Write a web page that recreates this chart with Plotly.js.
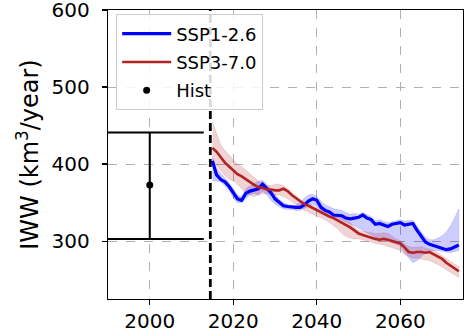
<!DOCTYPE html>
<html>
<head>
<meta charset="utf-8">
<script src="https://cdn.plot.ly/plotly-3.0.1.min.js"></script>
<style>html,body{margin:0;padding:0;background:#fff;}#chart{width:464px;height:333px;}</style>
</head>
<body>
<div id="chart"></div>
<script>
const years = [2015,2016,2017,2018,2019,2020,2021,2022,2023,2024,2025,2026,2027,2028,2029,2030,2031,2032,2033,2034,2035,2036,2037,2038,2039,2040,2041,2042,2043,2044,2045,2046,2047,2048,2049,2050,2051,2052,2053,2054,2055,2056,2057,2058,2059,2060,2061,2062,2063,2064,2065,2066,2067,2068,2069,2070,2071,2072,2073,2074];

const ssp126 = [404,386,380,377,371,363,355,353,362,365,366,368,374,368,363,355,350,346,345,344,344,344,347,352,355,353,344,340,338,334,334,333,330,329,330,331,334,330,328,322,323,321,319,322,323,324,321,322,323,314,307,299,296,294,292,290,289,290,292,295];
const ssp126Upper = [410,395,388,382,376,368,360,358,368,372,375,378,379,374,367,360,354,350,348,346,347,350,356,360,361,358,352,347,345,342,341,340,337,335,336,335,337,334,332,327,328,326,324,325,327,328,326,327,327,320,312,305,302,302,304,307,312,320,330,342];
const ssp126Lower = [378,378,377,372,366,356,350,350,355,360,362,360,365,360,353,348,345,342,341,341,340,340,342,345,348,345,340,335,333,330,330,328,325,322,320,318,315,312,308,305,304,303,300,298,296,294,285,278,272,275,280,285,287,288,288,287,286,285,286,288];

const ssp370 = [421,416,409,402,397,392,387,384,380,377,373,370,369,367,367,366,366,368,365,360,356,351,348,346,343,340,338,335,332,330,327,324,322,318,314,310,308,306,305,303,302,303,302,300,299,297,292,286,285,286,286,285,286,283,280,277,272,268,264,261];
const ssp370Upper = [455,440,425,418,412,405,400,397,392,388,382,378,375,372,372,374,374,372,368,363,358,354,351,349,346,344,341,338,335,333,331,330,328,324,318,314,313,312,311,310,310,311,310,306,303,301,296,293,292,292,293,291,290,288,285,282,278,274,270,267];
const ssp370Lower = [405,398,392,385,380,378,374,368,362,360,358,360,362,362,360,360,360,358,355,352,348,344,340,338,335,332,330,328,325,320,316,310,306,304,303,303,302,300,299,297,296,295,294,292,290,288,283,280,278,278,277,276,275,273,270,267,263,259,256,253];

const histYear = [2000];
const histMean = [373];
const histUp = [68];
const histDown = [70];

const splitYear = 2014.5;
const xTicks = [2000, 2020, 2040, 2060];
const yTicks = [300, 400, 500, 600];

const revYears = years.slice().reverse();
function band(upper, lower, color) {
  return {
    x: years.concat(revYears),
    y: upper.concat(lower.slice().reverse()),
    type: 'scatter', mode: 'lines', fill: 'toself',
    fillcolor: color, line: {color: color, width: 0.6},
    showlegend: false, hoverinfo: 'skip'
  };
}

const traces = [
  band(ssp126Upper, ssp126Lower, 'rgba(0,0,255,0.2)'),
  band(ssp370Upper, ssp370Lower, 'rgba(178,34,34,0.2)'),
  {x: years, y: ssp126, type: 'scatter', mode: 'lines', name: 'SSP1-2.6', legendgroup: 'a',
   line: {color: '#0000ff', width: 3.2}},
  {x: years, y: ssp370, type: 'scatter', mode: 'lines', name: 'SSP3-7.0', legendgroup: 'b',
   line: {color: '#b22222', width: 2.6}},
  {x: histYear, y: histMean, type: 'scatter', mode: 'markers', name: 'Hist', legendgroup: 'c',
   marker: {color: 'black', size: 7},
   error_y: {type: 'data', symmetric: false, array: histUp, arrayminus: histDown,
             color: 'black', thickness: 2, width: 54}}
];

const axisCommon = {
  showline: true, mirror: true, linecolor: 'black', linewidth: 1.3,
  ticks: 'outside', ticklen: 5, tickwidth: 1.3, tickcolor: 'black',
  showgrid: true, gridcolor: '#b0b0b0', griddash: 'dash', gridwidth: 1,
  zeroline: false, ticklabeloverflow: 'allow',
  tickfont: {family: 'DejaVu Sans', size: 20, color: 'black'}
};

const layout = {
  width: 464, height: 333,
  margin: {l: 108, r: 1, t: 10, b: 34},
  paper_bgcolor: 'white', plot_bgcolor: 'white',
  font: {family: 'DejaVu Sans', color: 'black'},
  xaxis: Object.assign({}, axisCommon, {
    range: [1990, 2075], tickvals: xTicks, ticklabelstandoff: -1
  }),
  yaxis: Object.assign({}, axisCommon, {
    range: [225, 600.01], tickvals: yTicks, ticklabelstandoff: 8,
    title: {text: 'IWW (km<sup>3</sup>/year)', font: {family: 'DejaVu Sans', size: 24, color: 'black'}, standoff: 6}
  }),
  shapes: [{
    type: 'line', xref: 'x', yref: 'paper', x0: splitYear, x1: splitYear, y0: 0, y1: 1,
    line: {color: 'black', width: 2.8, dash: '8px,4px'}
  }],
  legend: {
    x: 0.023, y: 0.985, xanchor: 'left', yanchor: 'top',
    bgcolor: 'rgba(255,255,255,0.85)', bordercolor: '#cccccc', borderwidth: 1,
    itemwidth: 49, tracegroupgap: 2, traceorder: 'grouped',
    font: {family: 'DejaVu Sans', size: 18, color: 'black'}
  },
  showlegend: true
};

Plotly.newPlot('chart', traces, layout, {displayModeBar: false, staticPlot: true});
</script>
</body>
</html>
